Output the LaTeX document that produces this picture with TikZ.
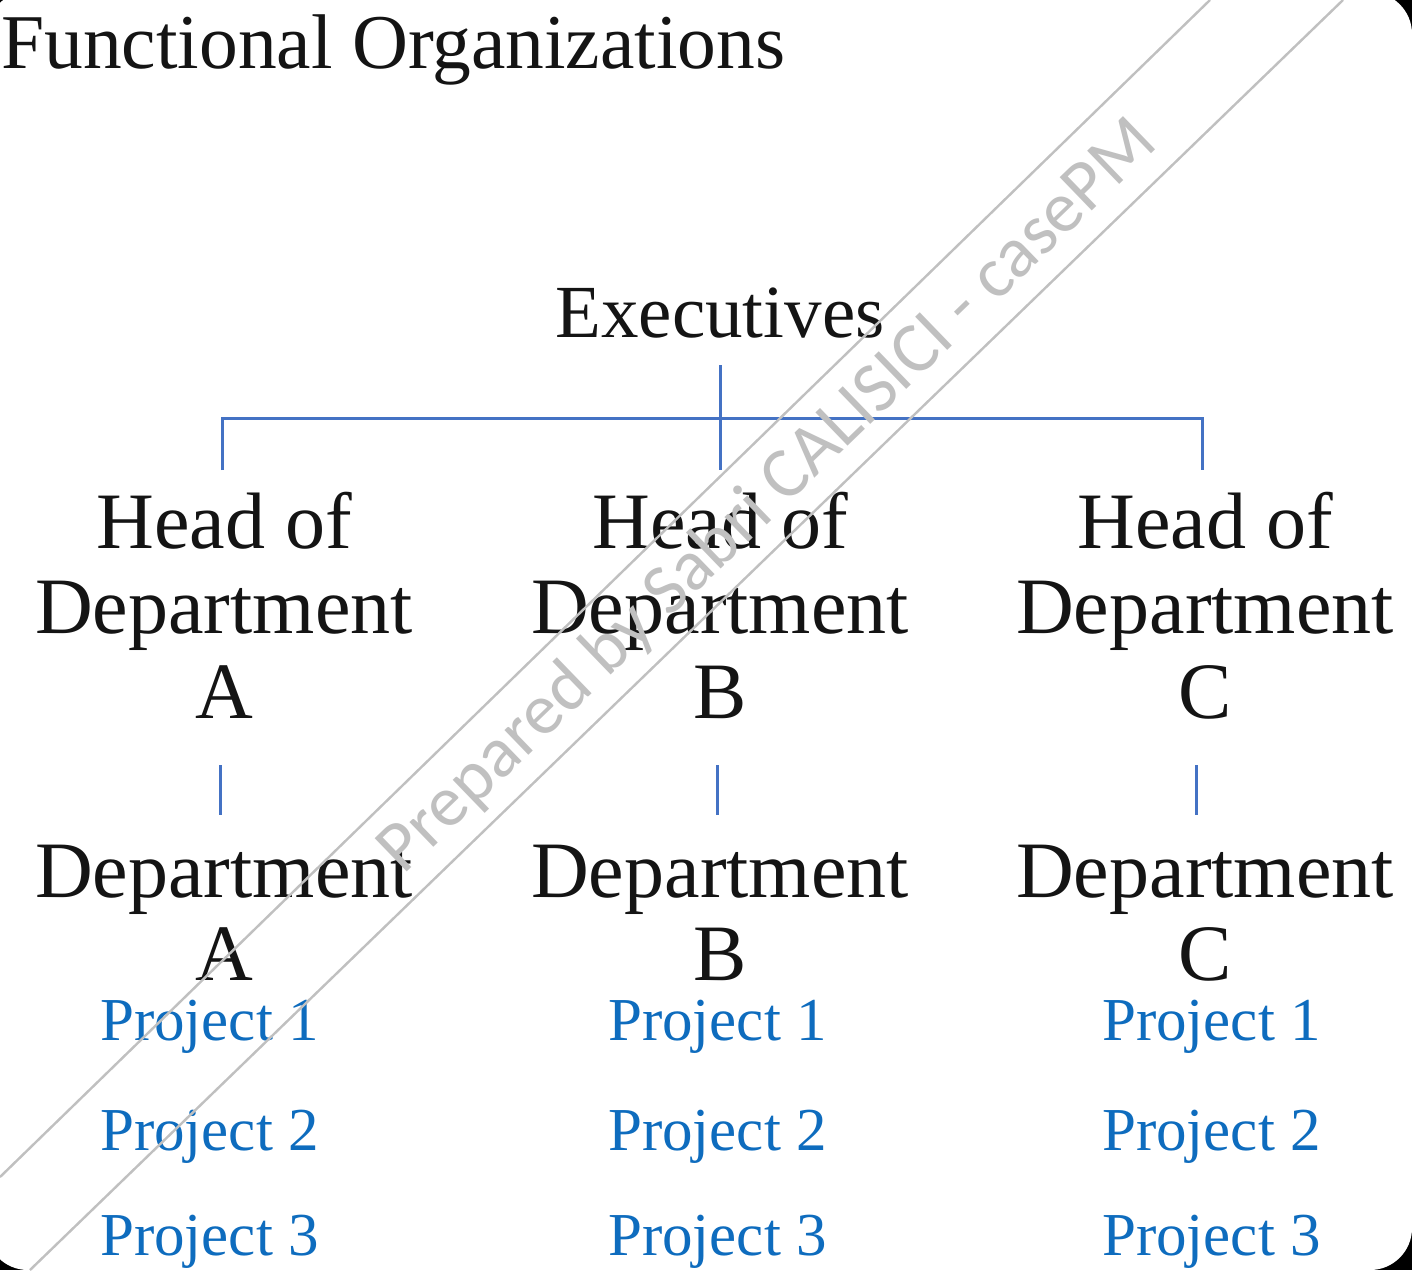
\documentclass[tikz,border=0pt]{standalone}
\usepackage{fontspec}
\setmainfont{Liberation Serif}
\newfontfamily\wmfont{Carlito}
\usetikzlibrary{calc}
\definecolor{linkblue}{RGB}{68,114,196}
\definecolor{projblue}{RGB}{14,108,190}
\definecolor{wmgray}{RGB}{192,192,192}
\begin{document}
\begin{tikzpicture}[x=1pt,y=-1pt,
  txt/.style={inner sep=0pt, anchor=base, text=black!92},
  head/.style={txt, font=\fontsize{80}{80}\selectfont},
  proj/.style={inner sep=0pt, anchor=base west, text=projblue, font=\fontsize{61}{61}\selectfont},
  link/.style={draw=linkblue, line width=3pt},
  wmline/.style={draw=wmgray, line width=2.4pt},
  wmtext/.style={inner sep=0pt, rotate=44, text=wmgray, font=\wmfont\fontsize{72}{72}\selectfont}]
\useasboundingbox (0,0) rectangle (1412,1270);
% page background with rounded white sheet
\fill[black] (0,0) rectangle (1412,1270);
\fill[white, rounded corners=42pt] (-14,-8) rectangle (1412,1270);

% title and top level
\node[txt, anchor=base west, font=\fontsize{77.5}{77.5}\selectfont] (title) at (1,68) {Functional Organizations};
\node[txt, font=\fontsize{75}{75}\selectfont] (exec) at (720,337) {Executives};

% department heads and departments
\foreach \c/\x in {A/224,B/720,C/1205} {
  \node[head] (hd\c1) at (\x,548) {Head of};
  \node[head] (hd\c2) at (\x,633) {Department};
  \node[head] (hd\c3) at (\x,718) {\c};
  \node[head] (dp\c1) at (\x,897) {Department};
  \node[head] (dp\c2) at (\x,980) {\c};
}

% projects
\foreach \c/\x in {A/100,B/608,C/1102} {
  \node[proj] (pr\c1) at (\x,1040) {Project 1};
  \node[proj] (pr\c2) at (\x,1150) {Project 2};
  \node[proj] (pr\c3) at (\x,1255) {Project 3};
}

% tree connectors
\coordinate (busA) at ($(hdA1.base)+(-2,-130)$);
\coordinate (busC) at ($(hdC1.base)+(-3,-130)$);
\draw[link] ($(exec.base)+(0,28)$) -- ($(hdB1.base)+(0,-78)$);
\draw[link] ($(hdA1.base)+(-2,-78)$) -- (busA) -- (busC) -- ($(hdC1.base)+(-3,-78)$);
\draw[link] ($(hdA3.base)+(-4,47)$) -- ($(dpA1.base)+(-4,-82)$);
\draw[link] ($(hdB3.base)+(-3,47)$) -- ($(dpB1.base)+(-3,-82)$);
\draw[link] ($(hdC3.base)+(-9,47)$) -- ($(dpC1.base)+(-9,-82)$);

% watermark band
\coordinate (wmA1) at (1210,0);
\coordinate (wmA2) at (0,1177);
\coordinate (wmB1) at (1343,0);
\coordinate (wmB2) at (30,1270);
\draw[wmline] (wmA1) -- (wmA2);
\draw[wmline] (wmB1) -- (wmB2);
\node[wmtext] (wm) at (768,497) {Prepared by Sabri CALISICI - casePM};
\end{tikzpicture}
\end{document}
